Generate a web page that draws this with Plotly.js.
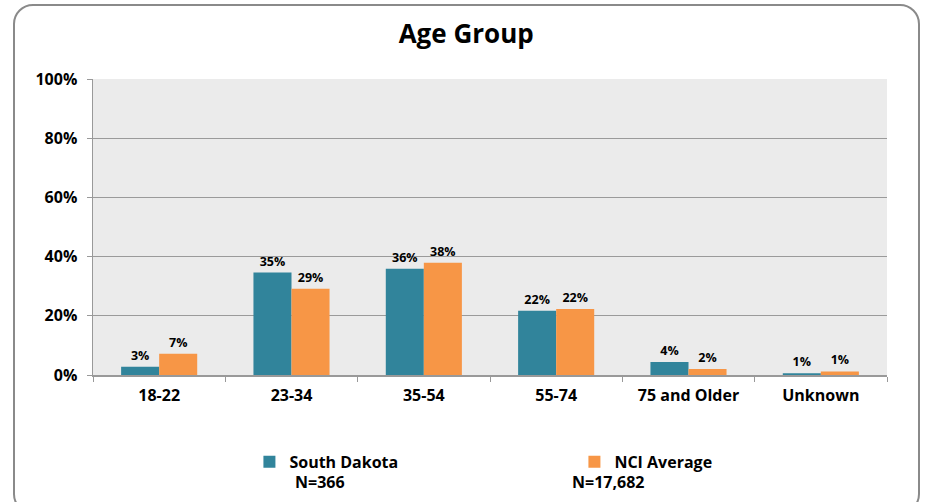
<!DOCTYPE html>
<html>
<head>
<meta charset="utf-8">
<script src="https://cdn.plot.ly/plotly-3.0.1.min.js"></script>
<style>
  html, body { margin: 0; padding: 0; background: #ffffff; }
  #chart { position: absolute; left: 0; top: 0; width: 926px; height: 502px; }
  #frame { position: absolute; left: 13px; top: 4px; width: 907px; height: 510px;
           border: 2px solid #8a8a8a; border-radius: 20px; pointer-events: none; box-sizing: border-box; }
</style>
</head>
<body>
<div id="chart"></div>
<div id="frame"></div>
<script>
const categories = ["18-22", "23-34", "35-54", "55-74", "75 and Older", "Unknown"];
const southDakota = [2.8, 34.6, 35.9, 21.7, 4.4, 0.6];
const nciAverage = [7.2, 29.1, 37.9, 22.3, 2.0, 1.2];
const sdLabels = ["3%", "35%", "36%", "22%", "4%", "1%"];
const nciLabels = ["7%", "29%", "38%", "22%", "2%", "1%"];
const seriesNames = ["South Dakota", "NCI Average"];
const seriesN = ["N=366", "N=17,682"];
const yTickVals = [0, 20, 40, 60, 80, 100];
const yTickText = ["0%", "20%", "40%", "60%", "80%", "100%"];

const FONT = "Open Sans, DejaVu Sans, sans-serif";

const labelFont = { family: FONT, size: 12.5, color: "#000", weight: "bold" };

const traces = [
  {
    type: "bar", x: categories, y: southDakota, name: seriesNames[0],
    marker: { color: "#31849b" },
    text: sdLabels, textposition: "outside", cliponaxis: false,
    textfont: labelFont, hoverinfo: "skip"
  },
  {
    type: "bar", x: categories, y: nciAverage, name: seriesNames[1],
    marker: { color: "#f79646" },
    text: nciLabels, textposition: "outside", cliponaxis: false,
    textfont: labelFont, hoverinfo: "skip"
  }
];

const layout = {
  width: 926, height: 502,
  margin: { l: 93, r: 39, t: 79, b: 127, autoexpand: false },
  paper_bgcolor: "rgba(0,0,0,0)",
  plot_bgcolor: "#ebebeb",
  barmode: "group",
  bargap: 0.425,
  bargroupgap: 0,
  title: {
    text: "<b>Age Group</b>",
    font: { family: FONT, size: 26, color: "#000" },
    x: 0.47, xanchor: "center", xref: "paper",
    y: 0.932, yref: "container", yanchor: "middle"
  },
  font: { family: FONT, color: "#000" },
  xaxis: {
    type: "category", automargin: false,
    showline: true, linecolor: "#999", linewidth: 1.5,
    ticks: "outside", tickson: "boundaries", ticklen: 5, tickcolor: "#999",
    ticklabelstandoff: 5,
    tickfont: { family: FONT, size: 16, color: "#000", weight: "bold" },
    showgrid: false
  },
  yaxis: {
    range: [0, 100], automargin: false,
    tickvals: yTickVals, ticktext: yTickText,
    showline: true, linecolor: "#999", linewidth: 1.5,
    ticks: "outside", ticklen: 5, tickcolor: "#999",
    ticklabelstandoff: 6,
    showgrid: true, gridcolor: "#9a9a9a", gridwidth: 1.2,
    zeroline: false,
    tickfont: { family: FONT, size: 16, color: "#000", weight: "bold" },
    fixedrange: true
  },
  showlegend: true,
  legend: {
    orientation: "h",
    x: 0.197, xanchor: "left", xref: "paper",
    y: 0.08, yanchor: "middle", yref: "container",
    entrywidth: 280, entrywidthmode: "pixels",
    font: { family: FONT, size: 16, color: "#000", weight: "bold" },
    bgcolor: "rgba(0,0,0,0)",
    tracegroupgap: 0
  },
  annotations: [
    { text: "<b>" + seriesN[0] + "</b>", xref: "paper", yref: "paper",
      x: (293 - 93) / 794, xanchor: "left", y: -(482 - 375) / 296, yanchor: "middle",
      showarrow: false, font: { family: FONT, size: 16, color: "#000" } },
    { text: "<b>" + seriesN[1] + "</b>", xref: "paper", yref: "paper",
      x: (570 - 93) / 794, xanchor: "left", y: -(482 - 375) / 296, yanchor: "middle",
      showarrow: false, font: { family: FONT, size: 16, color: "#000" } }
  ]
};

Plotly.newPlot("chart", traces, layout, { staticPlot: true });
</script>
</body>
</html>
